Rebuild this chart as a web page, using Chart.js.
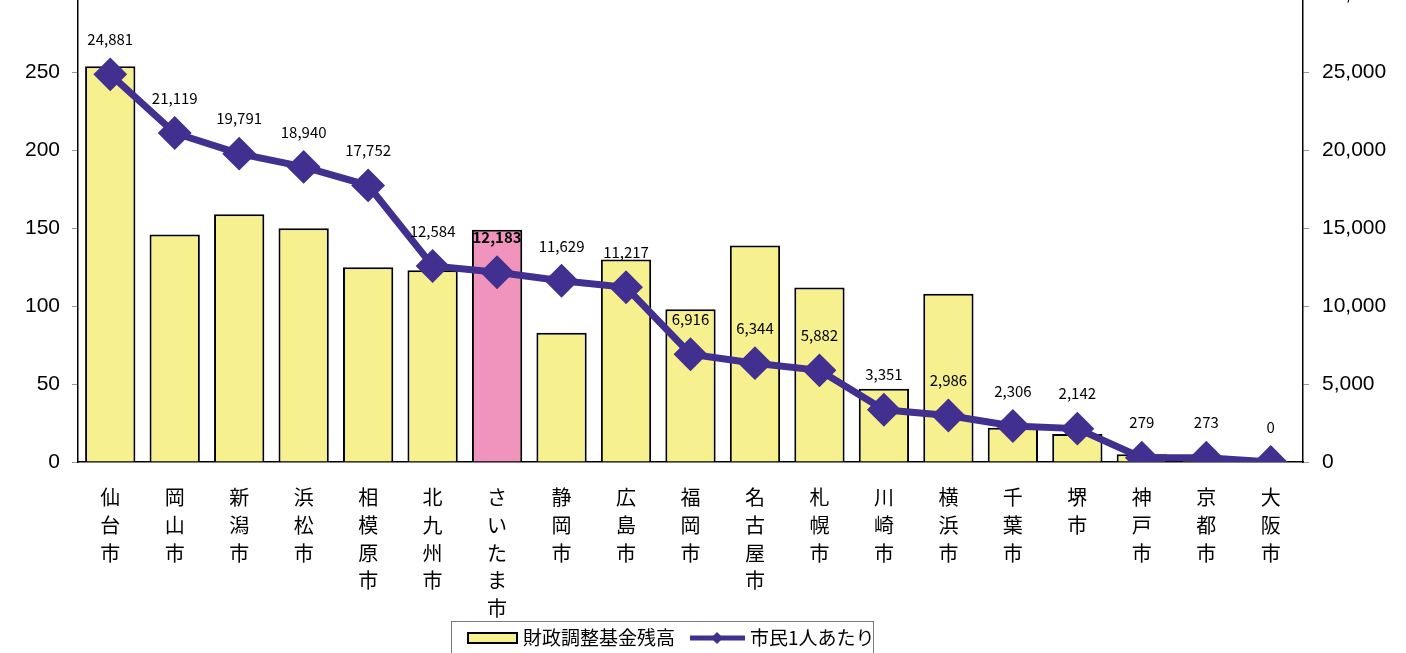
<!DOCTYPE html>
<html>
<head>
<meta charset="utf-8">
<script src="https://cdn.jsdelivr.net/npm/chart.js@4/dist/chart.umd.min.js"></script>
<style>
  html, body { margin: 0; padding: 0; background: #fff; overflow: hidden; }
  #wrap { position: absolute; left: 0; top: -31px; width: 1406px; height: 685px; }
</style>
</head>
<body>
<div id="wrap"><canvas id="chart"></canvas></div>
<script>
// 政令市 財政調整基金残高（億円）と市民1人あたり（円）
var cities = ['仙台市', '岡山市', '新潟市', '浜松市', '相模原市', '北九州市', 'さいたま市', '静岡市', '広島市', '福岡市',
    '名古屋市', '札幌市', '川崎市', '横浜市', '千葉市', '堺市', '神戸市', '京都市', '大阪市'];
var fund = [254, 146, 159, 150, 125, 123, 149, 83, 130, 98, 139, 112, 47, 108, 22, 18, 5, 1, 0];
var perCapita = [24881, 21119, 19791, 18940, 17752, 12584, 12183, 11629, 11217, 6916, 6344, 5882, 3351, 2986, 2306, 2142, 279, 273, 0];
var highlight = 'さいたま市';

var yellow = '#F6F08E';
var pink = '#F093BD';
var purple = '#41308F';

var barColors = cities.map(function (c) { return c === highlight ? pink : yellow; });
// 縦書きラベル
var verticalLabels = cities.map(function (c) { return c.split(''); });

var valueLabels = {
    id: 'valueLabels',
    afterDatasetsDraw: function (chart) {
        var ctx = chart.ctx;
        var meta = chart.getDatasetMeta(1);
        ctx.save();
        ctx.textAlign = 'center';
        ctx.textBaseline = 'middle';
        ctx.fillStyle = '#000';
        meta.data.forEach(function (pt, i) {
            var bold = cities[i] === highlight;
            ctx.font = (bold ? 'bold ' : '') + '15px "Noto Sans CJK JP"';
            ctx.fillText(perCapita[i].toLocaleString('en-US'), pt.x, pt.y - 35);
        });
        ctx.restore();
    }
};

var boxLegend = {
    id: 'boxLegend',
    afterDraw: function (chart) {
        var ctx = chart.ctx;
        var ds = chart.data.datasets;
        ctx.save();
        ctx.strokeStyle = '#777';
        ctx.lineWidth = 1;
        ctx.strokeRect(451.5, 652.5, 422, 40);
        ctx.font = '19px "Noto Sans CJK JP"';
        ctx.textBaseline = 'middle';
        var y = 669;
        // 棒
        ctx.fillStyle = yellow;
        ctx.fillRect(468, y - 5, 49, 10);
        ctx.strokeStyle = '#000';
        ctx.lineWidth = 2;
        ctx.strokeRect(468, y - 5, 49, 10);
        ctx.fillStyle = '#000';
        ctx.fillText(ds[0].label, 523, y);
        // 折れ線
        ctx.strokeStyle = purple;
        ctx.lineWidth = 5;
        ctx.beginPath();
        ctx.moveTo(690, y);
        ctx.lineTo(745, y);
        ctx.stroke();
        ctx.fillStyle = purple;
        ctx.beginPath();
        ctx.moveTo(717, y - 6);
        ctx.lineTo(723, y);
        ctx.lineTo(717, y + 6);
        ctx.lineTo(711, y);
        ctx.closePath();
        ctx.fill();
        ctx.fillStyle = '#000';
        ctx.fillText(ds[1].label, 750, y);
        ctx.restore();
    }
};

var ctx = document.getElementById('chart').getContext('2d');
var chart = new Chart(ctx, {
    type: 'bar',
    data: {
        labels: verticalLabels,
        datasets: [{
            type: 'bar',
            label: '財政調整基金残高',
            data: fund,
            yAxisID: 'y',
            backgroundColor: barColors,
            borderColor: '#000',
            borderWidth: 2,
            barPercentage: 0.78,
            categoryPercentage: 1,
            order: 2
        }, {
            type: 'line',
            label: '市民1人あたり',
            data: perCapita,
            yAxisID: 'y2',
            borderColor: purple,
            backgroundColor: purple,
            borderWidth: 7,
            pointStyle: 'rectRot',
            pointRadius: 12,
            pointHoverRadius: 12,
            pointBackgroundColor: purple,
            pointBorderColor: purple,
            tension: 0,
            order: 1
        }]
    },
    options: {
        responsive: true,
        maintainAspectRatio: false,
        animation: false,
        layout: { padding: { top: 10, bottom: 35, left: 0, right: 0 } },
        plugins: {
            legend: { display: false },
            tooltip: { enabled: false }
        },
        scales: {
            x: {
                grid: { display: false },
                border: { color: '#000', width: 1.5 },
                ticks: {
                    color: '#000',
                    padding: 14,
                    maxRotation: 0,
                    autoSkip: false,
                    font: { family: '"Noto Sans CJK JP"', size: 20, lineHeight: 1.38 }
                },
                afterFit: function (s) { s.height = 157; }
            },
            y: {
                position: 'left',
                min: 0,
                max: 300,
                ticks: {
                    stepSize: 50,
                    color: '#000',
                    padding: 12,
                    font: { family: '"Liberation Sans"', size: 21 }
                },
                grid: { drawOnChartArea: false, tickLength: 6, tickColor: '#999' },
                border: { color: '#000', width: 1.5 },
                afterFit: function (s) { s.width = 78; }
            },
            y2: {
                position: 'right',
                min: 0,
                max: 30000,
                ticks: {
                    stepSize: 5000,
                    color: '#000',
                    padding: 13,
                    font: { family: '"Liberation Sans"', size: 21 },
                    callback: function (v) { return v.toLocaleString('en-US'); }
                },
                grid: { drawOnChartArea: false, tickLength: 6, tickColor: '#999' },
                border: { color: '#000', width: 1.5 },
                afterFit: function (s) { s.width = 103; }
            }
        }
    },
    plugins: [valueLabels, boxLegend]
});
</script>
</body>
</html>
